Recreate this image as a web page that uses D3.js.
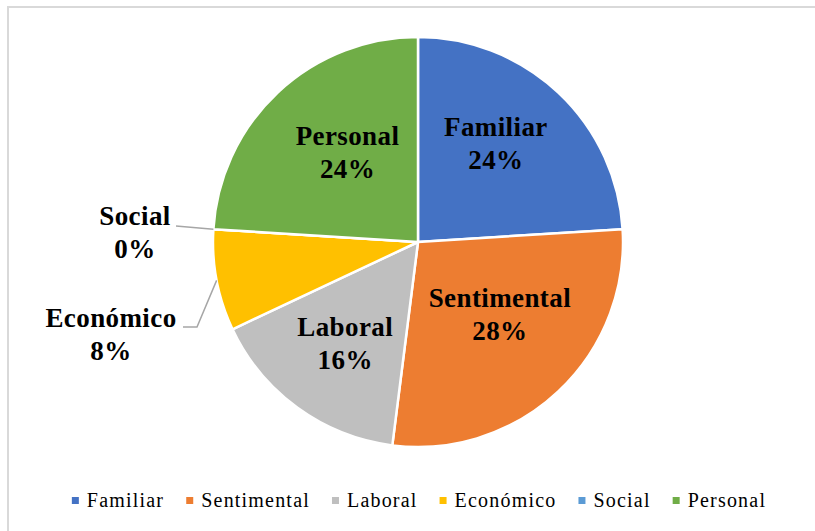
<!DOCTYPE html>
<html>
<head>
<meta charset="utf-8">
<script src="https://cdn.jsdelivr.net/npm/d3@7"></script>
<style>
html,body{margin:0;padding:0;background:#fff;}
svg{display:block;}
</style>
</head>
<body>
<svg id="chart" width="815" height="531"></svg>
<script>
const categories = ["Familiar","Sentimental","Laboral","Económico","Social","Personal"];
const values = [6, 7, 4, 2, 0, 6];
const percentLabels = ["24%","28%","16%","8%","0%","24%"];
const colors = ["#4472C4","#ED7D31","#BFBFBF","#FFC000","#5B9BD5","#70AD47"];

const svg = d3.select("#chart");
const W = 815, H = 531;
const cx = 418, cy = 242, R = 205;
const font = '"Liberation Serif", "Times New Roman", Times, serif';

// outer frame
svg.append("rect").attr("x",8).attr("y",7).attr("width",W+10).attr("height",H+10)
  .attr("fill","#fff").attr("stroke","#D9D9D9").attr("stroke-width",2);

const data = categories.map((c,i)=>({cat:c, value:values[i], pct:percentLabels[i], color:colors[i]}));
const pie = d3.pie().value(d=>d.value).sort(null);
const arcs = pie(data);
const arc = d3.arc().innerRadius(0).outerRadius(R);

const g = svg.append("g").attr("transform",`translate(${cx},${cy})`);
g.selectAll("path").data(arcs).enter().append("path")
  .attr("d",arc).attr("fill",d=>d.data.color)
  .attr("stroke","#fff").attr("stroke-width",2.5).attr("stroke-linejoin","round");

// label layout (best-fit placement: radius fraction and angle nudge per slice, in degrees)
const labelLayout = {
  "Familiar":    {r: 0.61, da: -4.7},
  "Sentimental": {r: 0.535, da: -5.1},
  "Laboral":     {r: 0.61, da: -0.4},
  "Personal":    {r: 0.555, da: 4.9}
};

function block(x, y, a) {
  const t = g.append("text").attr("text-anchor","middle")
    .style("font-family",font).attr("font-weight","bold").attr("font-size",27)
    .style("letter-spacing","0.4px").attr("fill","#000");
  t.append("tspan").attr("x",x).attr("y",y-8).text(a.data.cat);
  t.append("tspan").attr("x",x).attr("y",y+25).text(a.data.pct);
}

arcs.forEach(a=>{
  const lay = labelLayout[a.data.cat];
  if (lay) {
    const mid = (a.startAngle + a.endAngle)/2 + lay.da*Math.PI/180;
    const r = R*lay.r;
    block(Math.sin(mid)*r, -Math.cos(mid)*r, a);
  }
});

// outside labels with leader lines
function outside(idx, pts, lx, ly) {
  const a = arcs[idx];
  const mid = (a.startAngle + a.endAngle)/2;
  const px = Math.sin(mid)*R, py = -Math.cos(mid)*R;
  const line = [[px,py]].concat(pts);
  g.append("path").attr("d", d3.line()(line)).attr("fill","none")
    .attr("stroke","#A6A6A6").attr("stroke-width",1.5);
  block(lx, ly, a);
}
// Social
outside(4, [[176-cx, 226-cy]], 135-cx, 233-cy);
// Económico
outside(3, [[197-cx, 327-cy],[183-cx, 327-cy]], 111-cx, 335-cy);

// legend
const leg = svg.append("g");
const legY = 500.5;
const items = leg.selectAll("g").data(data).enter().append("g");
items.append("rect").attr("width",7).attr("height",7).attr("y",legY-3.5).attr("fill",d=>d.color);
const texts = items.append("text").attr("x",15).attr("y",legY+6.5)
  .style("font-family",font).attr("font-size",20).attr("fill","#000")
  .style("letter-spacing","1.2px")
  .text(d=>d.cat);
const gap = 22;
const widths = [];
texts.each(function(){ widths.push(15 + this.getComputedTextLength()); });
const total = d3.sum(widths) + gap*(widths.length-1);
let start = 419 - total/2;
items.attr("transform",(d,i)=>{
  const x = start; start += widths[i] + gap; return `translate(${x},0)`;
});
</script>
</body>
</html>
